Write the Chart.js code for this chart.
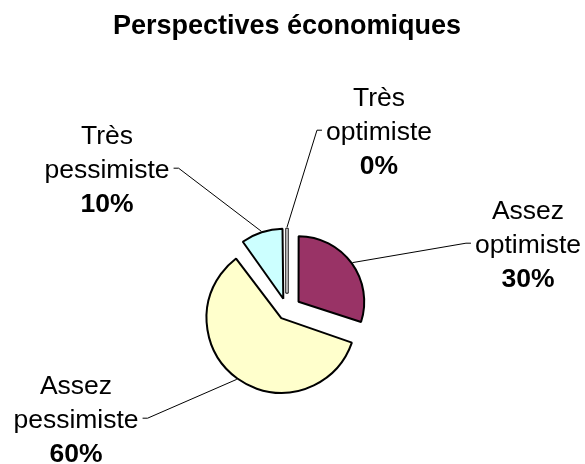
<!DOCTYPE html>
<html>
<head>
<meta charset="utf-8">
<script src="https://cdn.jsdelivr.net/npm/chart.js@4"></script>
<style>
  html, body { margin: 0; padding: 0; background: #fff; }
  #wrap { width: 585px; height: 464px; }
</style>
</head>
<body>
<div id="wrap"><canvas id="chart" width="585" height="464"></canvas></div>
<script>
/* ── Data ───────────────────────────────────────────── */
const categories = ['Très optimiste', 'Assez optimiste', 'Assez pessimiste', 'Très pessimiste'];
const values     = [0, 30, 60, 10];   // %

/* ── Style ──────────────────────────────────────────── */
const colors  = ['#9999FF', '#993366', '#FFFFCC', '#CCFFFF'];
const offsets = [34, 57, 39, 48];
const FONT = "'Liberation Sans', Arial, sans-serif";

// label block placement relative to pie centre (x of text centre, baseline of 2nd line)
const labelPos = [
  { dx:   92, dy: -170, side: 'right' },
  { dx:  241, dy:  -57, side: 'right' },
  { dx: -211, dy:  118, side: 'left'  },
  { dx: -180, dy: -132, side: 'left'  },
];

/* ── Labels + leader lines ──────────────────────────── */
const pieLabels = {
  id: 'pieLabels',
  afterDatasetsDraw(chart) {
    const ctx = chart.ctx;
    const meta = chart.getDatasetMeta(0);
    meta.data.forEach((el, i) => {
      const { x, y, startAngle, endAngle, outerRadius } = el.getProps(['x','y','startAngle','endAngle','outerRadius'], true);
      const circ = endAngle - startAngle;
      const off = (el.options.offset || 0) / 4;
      const fix = 1 - Math.sin(Math.min(Math.PI, circ || 0));
      const shift = off * (1 + fix);
      const half = (startAngle + endAngle) / 2;
      const cs = Math.cos(half), sn = Math.sin(half);

      ctx.save();
      // zero-sized slice: drawn as a thin outlined sliver
      if (circ === 0) {
        const px = -sn * 1.2, py = cs * 1.2;
        const x0 = x + cs * shift, y0 = y + sn * shift;
        const x1 = x + cs * (shift + outerRadius), y1 = y + sn * (shift + outerRadius);
        ctx.beginPath();
        ctx.moveTo(x0 + px, y0 + py);
        ctx.lineTo(x1 + px, y1 + py);
        ctx.lineTo(x1 - px, y1 - py);
        ctx.lineTo(x0 - px, y0 - py);
        ctx.closePath();
        ctx.fillStyle = '#fff';
        ctx.fill();
        ctx.lineWidth = 1;
        ctx.strokeStyle = '#000';
        ctx.stroke();
      }

      // text
      const p = labelPos[i];
      const cx = x + p.dx, base = y + p.dy;
      const words = categories[i].split(' ');
      ctx.fillStyle = '#000';
      ctx.textAlign = 'center';
      ctx.textBaseline = 'alphabetic';
      ctx.font = `26.5px ${FONT}`;
      ctx.fillText(words[0], cx, base - 34);
      ctx.fillText(words[1], cx, base);
      const w = ctx.measureText(words[1]).width;
      ctx.font = `bold 26.5px ${FONT}`;
      ctx.fillText(values[i] + '%', cx, base + 34);

      // leader
      const sx = x + cs * (shift + outerRadius + 1), sy = y + sn * (shift + outerRadius + 1);
      const ly = base - 10;
      const edge = p.side === 'right' ? cx - w / 2 - 4 : cx + w / 2 + 4;
      const knee = p.side === 'right' ? edge - 5 : edge + 5;
      ctx.beginPath();
      ctx.moveTo(sx, sy);
      ctx.lineTo(knee, ly);
      ctx.lineTo(edge, ly);
      ctx.lineWidth = 1;
      ctx.strokeStyle = '#000';
      ctx.stroke();
      ctx.restore();
    });
  }
};

/* ── Chart ──────────────────────────────────────────── */
new Chart(document.getElementById('chart'), {
  type: 'pie',
  data: {
    labels: categories,
    datasets: [{
      data: values,
      backgroundColor: colors,
      borderColor: '#000',
      borderWidth: 2,
      offset: offsets,
    }],
  },
  options: {
    responsive: false,
    animation: false,
    events: [],
    radius: 65,
    layout: { padding: { left: 0, right: 11, top: 0, bottom: 0 } },
    plugins: {
      legend: { display: false },
      tooltip: { enabled: false },
      title: {
        display: true,
        text: 'Perspectives économiques',
        color: '#000',
        font: { family: FONT, size: 27, weight: 'bold' },
        padding: { top: 10, bottom: 114 },
      },
    },
  },
  plugins: [pieLabels],
});
</script>
</body>
</html>
